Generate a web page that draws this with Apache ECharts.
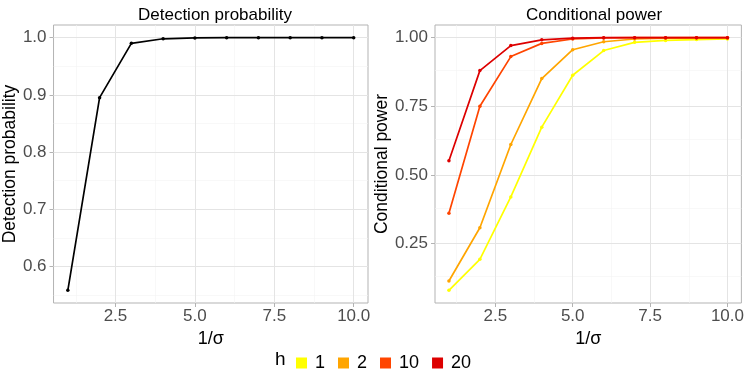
<!DOCTYPE html>
<html>
<head>
<meta charset="utf-8">
<script src="https://cdn.jsdelivr.net/npm/echarts@6/dist/echarts.min.js"></script>
<style>
  html, body { margin: 0; padding: 0; background: #fff; }
  #main { width: 747px; height: 374px; }
</style>
</head>
<body>
<div id="main"></div>
<script>
// x values (1/sigma)
var invSigma = [1, 2, 3, 4, 5, 6, 7, 8, 9, 10];

// left panel
var detectionProb = [0.558, 0.895, 0.990, 0.998, 0.9995, 1.0, 1.0, 1.0, 1.0, 1.0];

// right panel, one array per h
var hLevels = ['1', '2', '10', '20'];
var power_h1 = [0.080, 0.193, 0.420, 0.674, 0.863, 0.953, 0.983, 0.990, 0.993, 0.995];
var power_h2 = [0.114, 0.308, 0.611, 0.851, 0.956, 0.985, 0.995, 0.998, 0.999, 0.999];
var power_h10 = [0.361, 0.750, 0.931, 0.979, 0.995, 0.999, 1.0, 1.0, 1.0, 1.0];
var power_h20 = [0.552, 0.880, 0.971, 0.992, 0.998, 1.0, 1.0, 1.0, 1.0, 1.0];
var hColors = ['#FFFF00', '#FFA500', '#FF4500', '#DD0000'];

// tick labels
var xTicks = [2.5, 5.0, 7.5, 10.0];
var xMinor = [1.25, 3.75, 6.25, 8.75];
var yTicksLeft = [0.6, 0.7, 0.8, 0.9, 1.0];
var yMinorLeft = [0.55, 0.65, 0.75, 0.85, 0.95];
var yTicksRight = [0.25, 0.50, 0.75, 1.00];
var yMinorRight = [0.125, 0.375, 0.625, 0.875];

var FONT = 'Liberation Sans';
var chart = echarts.init(document.getElementById('main'));

function pairs(ys) {
    return invSigma.map(function (x, i) { return [x, ys[i]]; });
}

// panel grid lines (major + minor), drawn under the data
function gridLines(idx, yMajor, yMinor) {
    var minor = { color: '#F3F3F3', width: 0.6, type: 'solid' };
    var major = { color: '#E4E4E4', width: 1, type: 'solid' };
    var d = [];
    xMinor.forEach(function (v) { d.push({ xAxis: v, lineStyle: minor }); });
    yMinor.forEach(function (v) { d.push({ yAxis: v, lineStyle: minor }); });
    xTicks.forEach(function (v) { d.push({ xAxis: v, lineStyle: major }); });
    yMajor.forEach(function (v) { d.push({ yAxis: v, lineStyle: major }); });
    return {
        type: 'line', xAxisIndex: idx, yAxisIndex: idx, data: [], z: 1, silent: true,
        markLine: { z: 1, silent: true, symbol: ['none', 'none'], label: { show: false },
            lineStyle: { type: 'solid' }, emphasis: { disabled: true }, animation: false, data: d }
    };
}

function xAxis(idx) {
    return {
        type: 'value', gridIndex: idx, min: 0.55, max: 10.45,
        name: '1/σ', nameLocation: 'middle', nameGap: 22,
        nameTextStyle: { fontFamily: FONT, fontSize: 18, color: '#000' },
        axisLine: { show: false },
        axisTick: { show: true, customValues: xTicks, length: 4, lineStyle: { color: '#B3B3B3' } },
        axisLabel: { customValues: xTicks, fontFamily: FONT, fontSize: 17, color: '#4D4D4D', margin: 5,
            formatter: function (v) { return v.toFixed(1); } },
        splitLine: { show: false }
    };
}

function yAxis(idx, min, max, ticks, dec, name, gap) {
    return {
        type: 'value', gridIndex: idx, min: min, max: max,
        name: name, nameLocation: 'middle', nameGap: gap,
        nameTextStyle: { fontFamily: FONT, fontSize: 17.5, color: '#000' },
        axisLine: { show: false },
        axisTick: { show: true, customValues: ticks, length: 4, lineStyle: { color: '#B3B3B3' } },
        axisLabel: { customValues: ticks, fontFamily: FONT, fontSize: 17, color: '#4D4D4D', margin: 7,
            formatter: function (v) { return v.toFixed(dec); } },
        splitLine: { show: false }
    };
}

var powerSets = [power_h1, power_h2, power_h10, power_h20];
var powerSeries = hLevels.map(function (h, i) {
    return {
        name: h, type: 'line', xAxisIndex: 1, yAxisIndex: 1, z: 3 + i,
        data: pairs(powerSets[i]),
        symbol: 'circle', symbolSize: 3.5, showSymbol: true,
        itemStyle: { color: hColors[i] },
        lineStyle: { color: hColors[i], width: 1.7 }
    };
});

chart.setOption({
    backgroundColor: '#fff',
    animation: false,
    title: [
        { text: 'Detection probability', left: 210, top: 2, textAlign: 'center',
          textStyle: { fontFamily: FONT, fontSize: 17, fontWeight: 'normal', color: '#000' } },
        { text: 'Conditional power', left: 589, top: 2, textAlign: 'center',
          textStyle: { fontFamily: FONT, fontSize: 17, fontWeight: 'normal', color: '#000' } }
    ],
    grid: [
        { left: 51, top: 25, width: 317, height: 278, show: true, borderColor: '#B3B3B3', borderWidth: 1, backgroundColor: 'transparent' },
        { left: 435, top: 25, width: 308, height: 278, show: true, borderColor: '#B3B3B3', borderWidth: 1, backgroundColor: 'transparent' }
    ],
    xAxis: [xAxis(0), xAxis(1)],
    yAxis: [
        yAxis(0, 0.5359, 1.0221, yTicksLeft, 1, 'Detection probability', 31),
        yAxis(1, 0.034, 1.046, yTicksRight, 2, 'Conditional power', 40)
    ],
    legend: {
        data: hLevels, selectedMode: false, left: 291, top: 349,
        icon: 'rect', itemWidth: 11, itemHeight: 11, itemGap: 13,
        textStyle: { fontFamily: FONT, fontSize: 18, color: '#000', padding: [0, 0, 0, 3] }
    },
    graphic: [
        { type: 'text', left: 275, top: 350, style: { text: 'h', font: '19px "Liberation Sans"', fill: '#000' } }
    ],
    series: [
        gridLines(0, yTicksLeft, yMinorLeft),
        gridLines(1, yTicksRight, yMinorRight),
        {
            name: 'detection', type: 'line', xAxisIndex: 0, yAxisIndex: 0, z: 3,
            data: pairs(detectionProb),
            symbol: 'circle', symbolSize: 3.5,
            itemStyle: { color: '#000' },
            lineStyle: { color: '#000', width: 1.7 }
        }
    ].concat(powerSeries)
});
</script>
</body>
</html>
